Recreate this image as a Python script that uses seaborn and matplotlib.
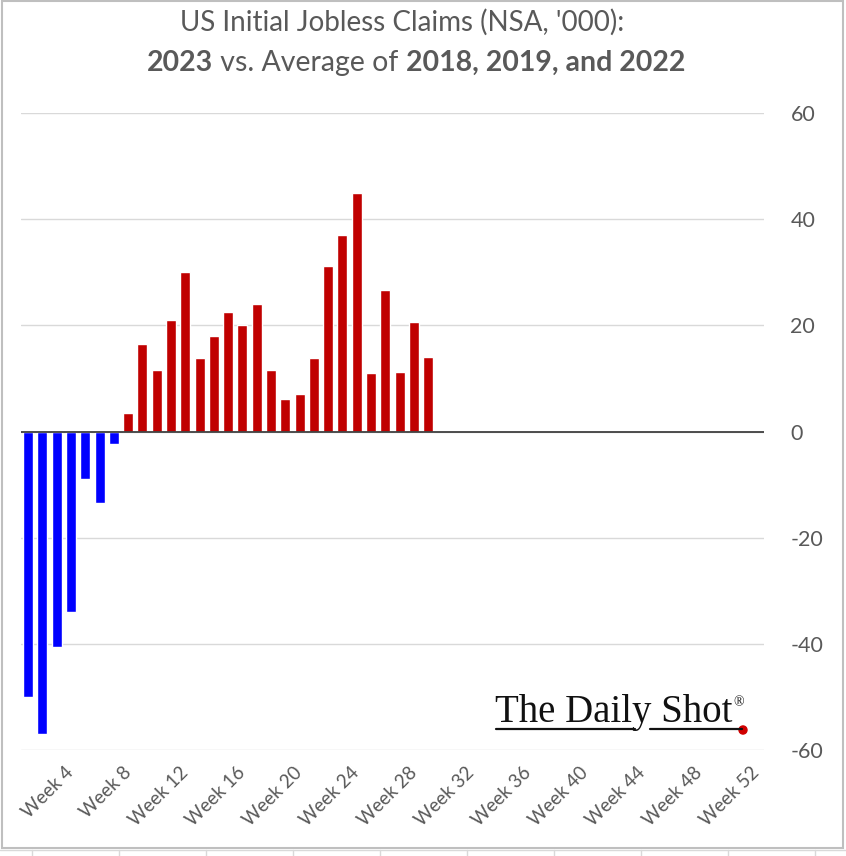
import numpy as np
import pandas as pd
import matplotlib
matplotlib.use("Agg")
import matplotlib.pyplot as plt
import seaborn as sns
from matplotlib.patches import Rectangle, Circle
from matplotlib.lines import Line2D

# weekly difference, 2023 vs avg of 2018/2019/2022 ('000)
weeks = list(range(1, 30))
diff = [-50.0, -57.0, -40.6, -34.0, -9.0, -13.5, -2.3,
        3.4, 16.4, 11.6, 21.0, 30.1, 13.9, 18.0, 22.6, 20.1, 24.1,
        11.6, 6.2, 7.0, 13.9, 31.1, 37.0, 45.0, 11.0, 26.7, 11.3, 20.6, 14.1]
all_weeks = [f"Week {w}" for w in range(1, 53)]
tick_weeks = list(range(4, 53, 4))
y_ticks = [-60, -40, -20, 0, 20, 40, 60]

df = pd.DataFrame({"week": [f"Week {w}" for w in weeks], "diff": diff})
df["sign"] = np.where(df["diff"] < 0, "neg", "pos")

sns.set_style("white")
plt.rcParams["font.family"] = ["Lato", "DejaVu Sans"]
plt.rcParams["axes.unicode_minus"] = False
grey = "#595959"

W, H = 846, 856
fig = plt.figure(figsize=(W / 100, H / 100), dpi=100)
ax = fig.add_axes([21 / W, 1 - 750 / H, (764 - 21) / W, (750 - 113) / H])

sns.barplot(data=df, x="week", y="diff", hue="sign", order=all_weeks,
            palette={"neg": "#0000FF", "pos": "#C00000"}, dodge=False,
            saturation=1, width=0.7, legend=False, ax=ax, zorder=3)

ax.set_xlim(-0.5, 51.5)
ax.set_ylim(-60, 60)
ax.set_xlabel("")
ax.set_ylabel("")
for s in ax.spines.values():
    s.set_visible(False)

ax.set_yticks(y_ticks)
ax.yaxis.tick_right()
ax.tick_params(axis="y", length=0, pad=19, labelsize=15.5, labelcolor=grey)
ax.grid(axis="y", color="#D9D9D9", lw=1, zorder=0)
ax.axhline(0, color="#404040", lw=1.3, zorder=4)

ax.set_xticks([w - 1 for w in tick_weeks])
ax.set_xticklabels([f"Week {w}" for w in tick_weeks], rotation=45, ha="right",
                   rotation_mode="anchor", va="center")
ax.tick_params(axis="x", length=0, pad=14, labelsize=13.5, labelcolor=grey)

# title
fig.text(402 / W, 1 - 22 / H, "US Initial Jobless Claims (NSA, '000):",
         ha="center", va="center", fontsize=20, color=grey)
pieces = [("2023", "bold"), (" vs. Average of ", "normal"),
          ("2018, 2019, and 2022", "bold")]
fig.canvas.draw()
r = fig.canvas.get_renderer()
texts = []
for s, wgt in pieces:
    t = fig.text(0, 1 - 63 / H, s, ha="left", va="center", fontsize=20.5,
                 fontweight=wgt, color=grey)
    texts.append(t)
widths = [t.get_window_extent(r).width for t in texts]
x0 = 416 - sum(widths) / 2
for t, w in zip(texts, widths):
    t.set_x(x0 / W)
    x0 += w

# logo
logo = fig.text(495 / W, 1 - 722 / H, "The Daily Shot", ha="left", va="baseline",
                fontsize=28, family="Liberation Serif", color="#111111")
fig.canvas.draw()
lx = logo.get_window_extent(r).x1
fig.text((lx + 1) / W, 1 - 706 / H, "®", ha="left", va="baseline",
         fontsize=10, family="Liberation Serif", color="#111111")
fig.add_artist(Line2D([496 / W, 635 / W], [1 - 729 / H] * 2, color="#111111", lw=1.6))
fig.add_artist(Line2D([650 / W, 742 / W], [1 - 729 / H] * 2, color="#111111", lw=1.6))
fig.add_artist(Circle((743 / W, 1 - 730 / H), 4 / W, color="#D00000"))

# frame and cells below
fig.add_artist(Rectangle((2 / W, 1 - 848 / H), 841 / W, 847 / H, fill=False,
                         edgecolor="#BFBFBF", lw=1.5))
fig.add_artist(Line2D([0, 1], [1 - 850 / H] * 2, color="#D9D9D9", lw=1))
for x in range(32, 846, 87):
    fig.add_artist(Line2D([x / W] * 2, [0, 1 - 850 / H], color="#D9D9D9", lw=1))

fig.savefig("out.png", dpi=100)
